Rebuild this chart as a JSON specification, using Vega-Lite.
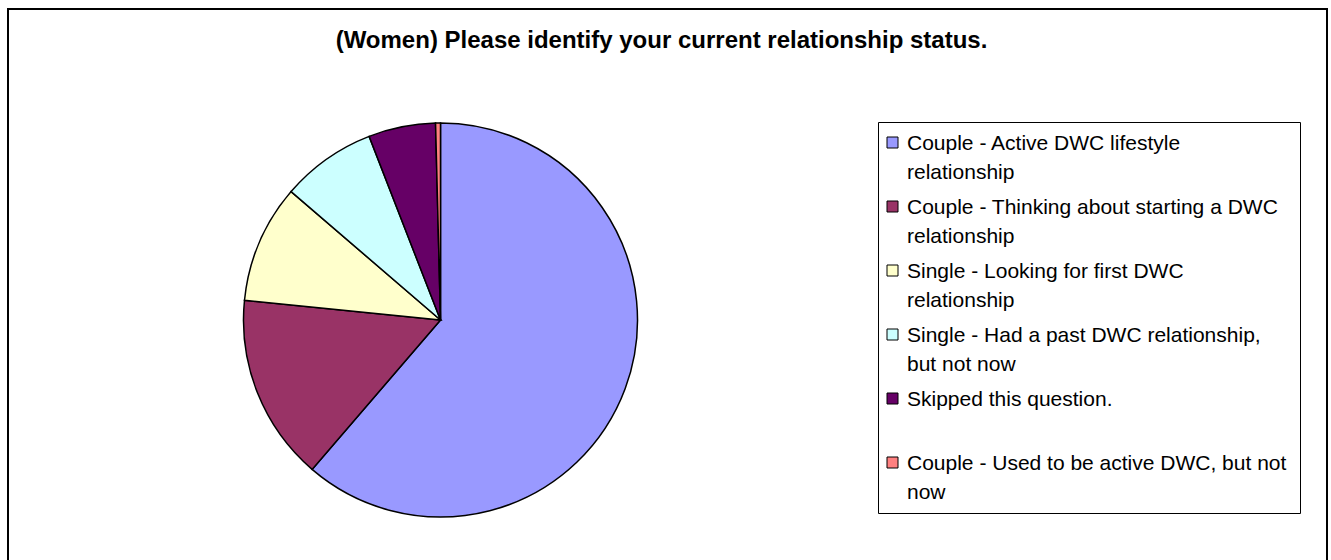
{
  "$schema": "https://vega.github.io/schema/vega-lite/v6.json",
  "width": 1319,
  "height": 552,
  "padding": {"left": 7, "top": 8, "right": 5, "bottom": 0},
  "background": "white",
  "config": {
    "view": {"stroke": null},
    "font": "Liberation Sans"
  },
  "title": {
    "text": "(Women) Please identify your current relationship status.",
    "font": "Liberation Sans",
    "fontSize": 24,
    "fontWeight": "bold",
    "color": "black",
    "anchor": "middle",
    "offset": -45,
    "dx": -6
  },
  "layer": [
    {
      "data": {"values": [{"frame": "border"}]},
      "mark": {"type": "rect", "fill": null, "stroke": "black", "strokeWidth": 2},
      "encoding": {
        "x": {"value": 0},
        "x2": {"value": "width"},
        "y": {"value": 0},
        "y2": {"value": "height"}
      }
    },
    {
      "data": {
        "values": [
          {"status": "Couple - Active DWC lifestyle relationship", "percent": 61.3, "order": 1},
          {"status": "Couple - Thinking about starting a DWC relationship", "percent": 15.3, "order": 2},
          {"status": "Single - Looking for first DWC relationship", "percent": 9.7, "order": 3},
          {"status": "Single - Had a past DWC relationship, but not now", "percent": 7.8, "order": 4},
          {"status": "Skipped this question.", "percent": 5.5, "order": 5},
          {"status": "Couple - Used to be active DWC, but not now", "percent": 0.4, "order": 6}
        ]
      },
      "mark": {
        "type": "arc",
        "outerRadius": 197,
        "x": 432.5,
        "y": 311,
        "stroke": "black",
        "strokeWidth": 1.5
      },
      "encoding": {
        "theta": {"field": "percent", "type": "quantitative", "stack": true},
        "order": {"field": "order", "type": "quantitative", "sort": "ascending"},
        "color": {
          "field": "status",
          "type": "nominal",
          "scale": {
            "domain": [
              "Couple - Active DWC lifestyle relationship",
              "Couple - Thinking about starting a DWC relationship",
              "Single - Looking for first DWC relationship",
              "Single - Had a past DWC relationship, but not now",
              "Skipped this question.",
              "Couple - Used to be active DWC, but not now"
            ],
            "range": ["#9999FF", "#993366", "#FFFFCC", "#CCFFFF", "#660066", "#FF8080"]
          },
          "legend": {
            "title": null,
            "orient": "none",
            "legendX": 870,
            "legendY": 113,
            "strokeColor": "black",
            "fillColor": "white",
            "padding": 10,
            "rowPadding": 13,
            "symbolType": "square",
            "symbolSize": 121,
            "symbolOffset": -6,
            "symbolStrokeColor": "black",
            "symbolStrokeWidth": 1,
            "labelFont": "Liberation Sans",
            "labelFontSize": 21,
            "labelColor": "black",
            "labelLimit": 600,
            "labelOffset": 4,
            "labelBaseline": "alphabetic",
            "labelExpr": "datum.label == 'Couple - Active DWC lifestyle relationship' ? ['Couple - Active DWC lifestyle', 'relationship'] : datum.label == 'Couple - Thinking about starting a DWC relationship' ? ['Couple - Thinking about starting a DWC\u00a0\u00a0\u200b', 'relationship'] : datum.label == 'Single - Looking for first DWC relationship' ? ['Single - Looking for first DWC', 'relationship'] : datum.label == 'Single - Had a past DWC relationship, but not now' ? ['Single - Had a past DWC relationship,', 'but not now'] : datum.label == 'Skipped this question.' ? ['Skipped this question.', ' '] : ['Couple - Used to be active DWC, but not', 'now']",
            "encode": {
              "labels": {
                "update": {
                  "lineHeight": {"value": 29},
                  "dy": {"value": 7}
                }
              }
            }
          }
        }
      }
    }
  ]
}
